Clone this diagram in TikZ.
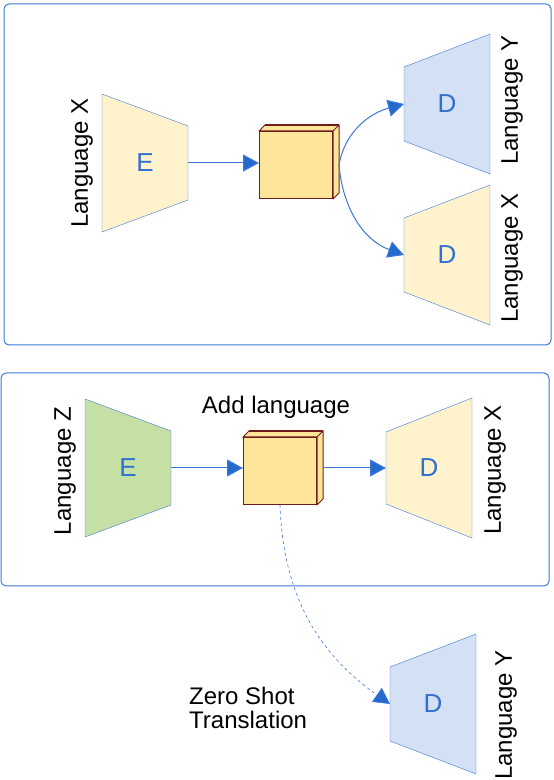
\documentclass[tikz,border=0pt]{standalone}
\usepackage{fontspec}
\setmainfont{Liberation Sans}
\usetikzlibrary{arrows.meta}
\definecolor{lineblue}{RGB}{60,120,216}
\definecolor{headblue}{RGB}{38,105,205}
\definecolor{letterblue}{RGB}{50,112,208}
\definecolor{yellowfill}{RGB}{255,242,204}
\definecolor{bluefill}{RGB}{212,224,244}
\definecolor{greenfill}{RGB}{197,224,165}
\definecolor{cubefill}{RGB}{255,229,153}
\definecolor{cubered}{RGB}{110,28,28}
\begin{document}
\begin{tikzpicture}[x=1pt,y=1pt,
    every node/.style={font=\fontsize{24}{24}\selectfont},
    conn/.style={draw=lineblue,line width=1pt,-{Triangle[length=16pt,width=17pt,fill=headblue]}},
    panel/.style={draw=lineblue,line width=1pt,rounded corners=5pt},
    lang/.style={rotate=90},
    letter/.style={text=letterblue,font=\fontsize{26}{26}\selectfont},
    cube/.style={draw=cubered,fill=cubefill,line width=1pt,minimum width=73pt,minimum height=67pt,inner sep=0pt}]
      \useasboundingbox (0,0) rectangle (554,780);
      \def\T[#1,#2,#3,#4,#5,#6,#7]{%
        \filldraw[draw=lineblue,fill=#5](#1,#2+#3)--(#1+86,#2+#4)--(#1+86,#2-#4)--(#1,#2-#3)--cycle;
        \node[letter] (#6) at(#1+43,#2){#7};
        \coordinate (#6-w) at(#1,#2);
        \coordinate (#6-e) at(#1+86,#2);
      }
      \def\C[#1,#2,#3]{%
        \node[cube] (#3) at(#1,#2){};
        \filldraw[draw=cubered,fill=cubefill,line width=1pt,line join=round]
          (#3.north west)--++(6,6)--([shift={(6,6)}]#3.north east)--(#3.north east)--cycle
          (#3.north east)--++(6,6)--([shift={(6,6)}]#3.south east)--(#3.south east)--cycle;
        \draw[cubered,line width=2pt]([shift={(6,6)}]#3.north west)--([shift={(6,6)}]#3.north east);
        \coordinate (#3-e) at([xshift=6pt]#3.east);
      }
      \begin{scope}
        \draw[panel](4,776)rectangle(551,435);
        \T[102,617,69,37,yellowfill,e1,E]
        \T[404,676,37,70,bluefill,d1,D]
        \T[404,525,37,70,yellowfill,d2,D]
        \C[296,615,c1]
        \node[lang] (l1) at(82,617){Language X};
        \node[lang] (l2) at(512,680){Language Y};
        \node[lang] (l3) at(512,522){Language X};
        \draw[conn](e1-e)--(e1-e -| c1.west);
        \draw[conn](c1-e) to[out=80,in=195] (d1-w);
        \draw[conn](c1-e) to[out=-85,in=160] (d2-w);
      \end{scope}
      \begin{scope}
        \draw[panel](1,407)rectangle(549,194);
        \T[85,312,69,37,greenfill,e2,E]
        \T[386,312,36,70,yellowfill,d3,D]
        \T[390,76,37,70,bluefill,d4,D]
        \C[280,309,c2]
        \node[lang] (l4) at(65,309){Language Z};
        \node[lang] (l5) at(495,310){Language X};
        \node[lang] (l6) at(506,65){Language Y};
        \node (add) at(276,373){Add language};
        \node[align=left,anchor=west,inner sep=0pt] (zero) at(189,72){Zero Shot\\Translation};
        \draw[conn](e2-e)--(e2-e -| c2.west);
        \draw[conn](d3-w -| c2-e)--(d3-w);
        \draw[conn,dashed,line width=.6pt](c2.south) to[out=-88,in=145] (d4-w);
      \end{scope}
    \end{tikzpicture}
\end{document}
